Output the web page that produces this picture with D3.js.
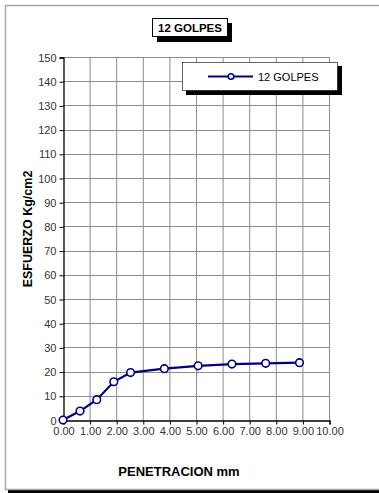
<!DOCTYPE html>
<html>
<head>
<meta charset="utf-8">
<script src="https://cdn.jsdelivr.net/npm/d3@7"></script>
<style>
  body{margin:0;background:#fff;}
  text{font-family:Arial,"Liberation Sans",sans-serif;}
</style>
</head>
<body>
<svg id="main"></svg>
<script>
//--------data----------
const seriesName = '12 GOLPES';
const penetracion = [0, 0.64, 1.27, 1.91, 2.54, 3.81, 5.08, 6.35, 7.62, 8.89];
const esfuerzo = [0, 3.7, 8.4, 15.8, 19.6, 21.2, 22.4, 23.1, 23.4, 23.7];
const xTicks = [0,1,2,3,4,5,6,7,8,9,10];
const yTicks = [0,10,20,30,40,50,60,70,80,90,100,110,120,130,140,150];

//--------code----------
let width = 379, height = 493;
let svg = d3.select('#main').attr('width', width).attr('height', height);

// outer chart frame (with shadow at the bottom)
svg.append('rect').attr('x', 8).attr('y', 8).attr('width', 400).attr('height', 485)
  .attr('fill', '#000');
svg.append('rect').attr('x', 5.5).attr('y', 5.5).attr('width', 400).attr('height', 484)
  .attr('fill', '#fff').attr('stroke', '#a6a6a6').attr('stroke-width', 1.5);

let sx = d3.scaleLinear().domain([0,10]).range([63,329]);
let sy = d3.scaleLinear().domain([0,150]).range([420,57]);

// grid
svg.append('g').selectAll('line').data(xTicks.slice(1)).join('line')
  .attr('x1', d=>sx(d)+0.5).attr('x2', d=>sx(d)+0.5)
  .attr('y1', sy(150)).attr('y2', sy(0))
  .attr('stroke', '#8c8c8c').attr('stroke-width', 1);
svg.append('g').selectAll('line').data(yTicks.slice(1)).join('line')
  .attr('x1', sx(0)).attr('x2', sx(10))
  .attr('y1', d=>Math.round(sy(d))+0.5).attr('y2', d=>Math.round(sy(d))+0.5)
  .attr('stroke', '#8c8c8c').attr('stroke-width', 1);

// axes
let ax = d3.axisBottom(sx).tickValues(xTicks).tickFormat(d3.format('.2f')).tickSize(4).tickPadding(3);
let ay = d3.axisLeft(sy).tickValues(yTicks).tickSize(4).tickPadding(3);
let gx = svg.append('g').attr('transform', 'translate(0.5,420.5)').call(ax);
let gy = svg.append('g').attr('transform', 'translate(63.5,0.5)').call(ay);
[gx, gy].forEach(g=>{
  g.select('.domain').attr('stroke', '#000').attr('stroke-width', 1.3);
  g.selectAll('.tick line').attr('stroke', '#000');
  g.selectAll('.tick text').attr('fill', '#333').style('font-size', '11px')
    .style('font-family', 'Arial,"Liberation Sans",sans-serif');
});

// series
let pts = penetracion.map((p,i)=>[p, esfuerzo[i]]);
let line = d3.line().x(d=>sx(d[0])).y(d=>sy(d[1]));
svg.append('path').datum(pts).attr('d', line)
  .attr('fill', 'none').attr('stroke', '#000080').attr('stroke-width', 2.2);
svg.append('g').selectAll('circle').data(pts).join('circle')
  .attr('cx', d=>sx(d[0])).attr('cy', d=>sy(d[1])).attr('r', 3.8)
  .attr('fill', '#fff').attr('stroke', '#000080').attr('stroke-width', 1.6);

// title box
svg.append('rect').attr('x', 157).attr('y', 23).attr('width', 75).attr('height', 19).attr('fill', '#000');
svg.append('rect').attr('x', 152.5).attr('y', 18.5).attr('width', 75).attr('height', 18)
  .attr('fill', '#fff').attr('stroke', '#000').attr('stroke-width', 1);
svg.append('text').attr('x', 190).attr('y', 32).attr('text-anchor', 'middle')
  .style('font-size', '11.5px').style('font-weight', 'bold').text(seriesName);

// legend box
svg.append('rect').attr('x', 186).attr('y', 66).attr('width', 156).attr('height', 29).attr('fill', '#000');
svg.append('rect').attr('x', 182.5).attr('y', 62.5).attr('width', 155).attr('height', 28)
  .attr('fill', '#fff').attr('stroke', '#000').attr('stroke-width', 0.6);
svg.append('line').attr('x1', 208).attr('x2', 253).attr('y1', 76.5).attr('y2', 76.5)
  .attr('stroke', '#000080').attr('stroke-width', 2.2);
svg.append('circle').attr('cx', 231).attr('cy', 76.5).attr('r', 2.8)
  .attr('fill', '#fff').attr('stroke', '#000080').attr('stroke-width', 1.5);
svg.append('text').attr('x', 258).attr('y', 80.5)
  .style('font-size', '11px').text(seriesName);

// axis titles
svg.append('text').attr('transform', 'translate(32,229) rotate(-90)').attr('text-anchor', 'middle')
  .style('font-size', '12.5px').style('font-weight', 'bold').text('ESFUERZO Kg/cm2');
svg.append('text').attr('x', 179).attr('y', 476).attr('text-anchor', 'middle')
  .style('font-size', '13px').style('font-weight', 'bold').text('PENETRACION mm');
</script>
</body>
</html>
